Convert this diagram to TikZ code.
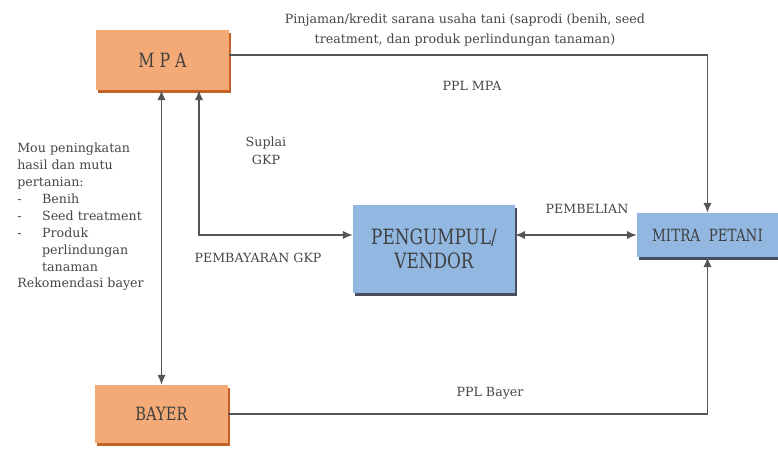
\documentclass[tikz,border=0pt]{standalone}
\usepackage{fontspec}
\setmainfont{DejaVu Serif}
\newfontfamily\boxfont[FakeStretch=0.8]{DejaVu Serif}
\usetikzlibrary{arrows.meta,shadows}
\definecolor{mpaorange}{RGB}{244,170,118}
\definecolor{mpashade}{RGB}{196,98,40}
\definecolor{vendorblue}{RGB}{146,184,226}
\definecolor{vendorshade}{RGB}{70,78,96}
\definecolor{labelgray}{RGB}{70,70,70}
\definecolor{linegray}{RGB}{85,85,85}
\begin{document}
\begin{tikzpicture}[x=0.025cm,y=-0.025cm,
  orangebox/.style={fill=mpaorange, general shadow={fill=mpashade, shadow xshift=1.5pt, shadow yshift=-2pt}, inner sep=0pt, text=black!75},
  bluebox/.style={fill=vendorblue, general shadow={fill=vendorshade, shadow xshift=1.2pt, shadow yshift=-1.8pt}, inner sep=0pt, text=black!75},
  flow/.style={draw=linegray, line width=1.1pt, >={Latex[length=7pt,width=6pt]}},
  lbl/.style={text=labelgray, font=\fontsize{9}{12.5}\selectfont, align=center, inner sep=0pt}]
\useasboundingbox (0,0) rectangle (778,449);
\node[orangebox, minimum width=3.325cm, minimum height=1.5cm, font={\boxfont\fontsize{14}{16}\selectfont}] (mpa) at (162.5,60) {M P A};
\node[bluebox, minimum width=4.05cm, minimum height=2.2cm, align=center, font={\boxfont\fontsize{15}{17}\selectfont}] (vendor) at (434,249) {PENGUMPUL/\\VENDOR};
\node[bluebox, minimum width=3.525cm, minimum height=1.1cm, font={\boxfont\fontsize{12}{14}\selectfont}] (mitra) at (707.5,235) {MITRA\ \ PETANI};
\node[orangebox, minimum width=3.325cm, minimum height=1.45cm, font={\boxfont\fontsize{13}{15}\selectfont}] (bayer) at (161.5,414) {BAYER};
\node[lbl, font={\fontsize{9}{14}\selectfont}] (saprodi) at (465,30) {Pinjaman/kredit sarana usaha tani (saprodi (benih, seed\\treatment, dan produk perlindungan tanaman)};
\node[lbl] (pplmpa) at (472,86) {PPL MPA};
\node[lbl] (suplai) at (266,151) {Suplai\\GKP};
\node[lbl] (bayar) at (258,258) {PEMBAYARAN GKP};
\node[lbl] (beli) at (587,209) {PEMBELIAN};
\node[lbl] (pplbayer) at (490,393) {PPL Bayer};
\node[lbl, align=left, anchor=north west, font={\fontsize{9}{12}\selectfont}] (mou) at (17,143) {Mou peningkatan\\hasil dan mutu\\pertanian:\\\makebox[0.62cm][l]{-}Benih\\\makebox[0.62cm][l]{-}Seed treatment\\\makebox[0.62cm][l]{-}Produk\\\hspace*{0.62cm}perlindungan\\\hspace*{0.62cm}tanaman\\Rekomendasi bayer};
\coordinate (gkp) at (199,235);
\draw[flow,->] ([yshift=0.125cm]mpa.east) -| (mitra.north);
\draw[flow,->] (bayer.east) -| (mitra.south);
\draw[flow,<->] (bayer.north) -- (bayer.north |- mpa.south);
\draw[flow,<->] (mpa.south -| gkp) -- (gkp) -- (gkp -| vendor.west);
\draw[flow,<->] (vendor.east |- mitra.west) -- (mitra.west);
\end{tikzpicture}
\end{document}
